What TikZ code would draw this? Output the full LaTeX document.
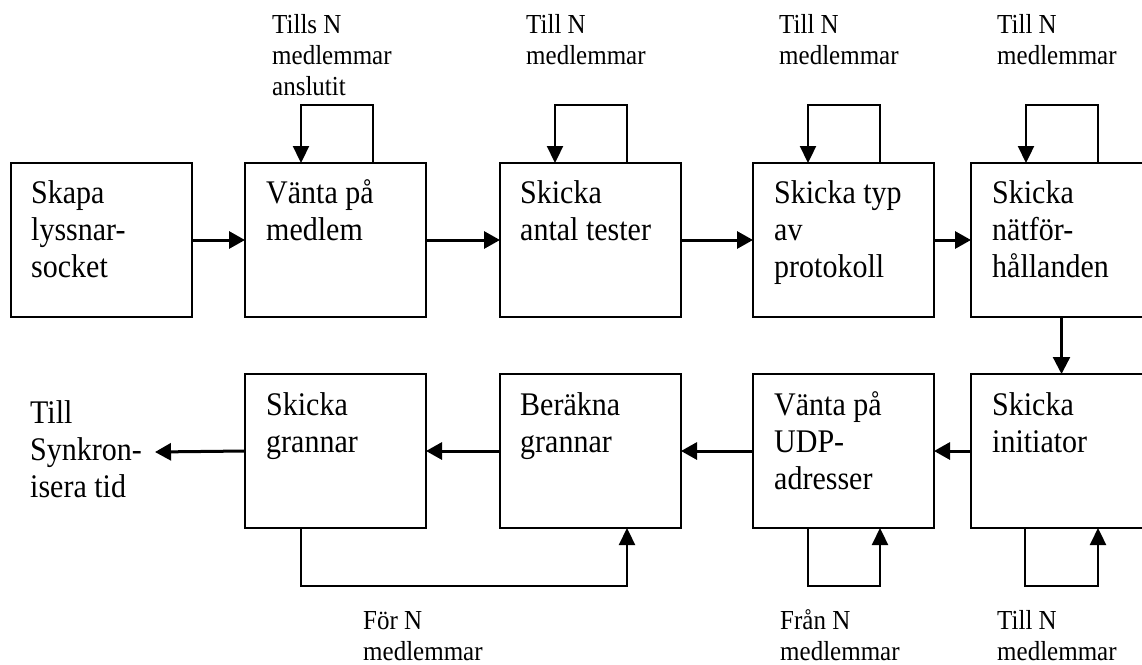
\documentclass[tikz,border=0pt]{standalone}
\usepackage{fontspec}
\usepackage{graphicx}
\setmainfont{Liberation Serif}
\usetikzlibrary{arrows.meta}

% text sizes for the step boxes and for the loop notes (set slightly tall)
\newcommand\boxfont{\fontsize{30}{33.8}\selectfont}
\newcommand\notefont{\fontsize{25}{28.2}\selectfont}
\newcommand\lines[1]{\scalebox{1}[1.1]{\begin{tabular}[t]{@{}l@{}}#1\end{tabular}}}

\tikzset{
  stepbox/.style={draw, line width=1.7pt, rectangle, inner sep=0pt, outer sep=0pt,
    minimum width=181pt, minimum height=154pt, anchor=north west},
  boxtext/.style={anchor=base west, inner sep=0pt, font=\boxfont},
  note/.style={anchor=base west, inner sep=0pt, font=\notefont},
  flow/.style={line width=3pt, -{Triangle[length=16pt,width=17pt]}},
  loopline/.style={line width=2.3pt, -{Triangle[length=17pt,width=16pt]}},
}

\begin{document}
\begin{tikzpicture}[x=1pt, y=-1pt]
\useasboundingbox (0,0) rectangle (1142,664);
\clip (0,0) rectangle (1142,664);

% upper row of steps
\node[stepbox] (b1) at (11,163) {};
\node[stepbox] (b2) at (245,163) {};
\node[stepbox] (b3) at (500,163) {};
\node[stepbox] (b4) at (753,163) {};
\node[stepbox] (b5) at (971,163) {};

% lower row of steps
\node[stepbox] (bA) at (245,374) {};
\node[stepbox] (bB) at (500,374) {};
\node[stepbox] (bC) at (753,374) {};
\node[stepbox] (bD) at (971,374) {};

% step texts
\node[boxtext] (t1) at ([xshift=20pt,yshift=-40pt]b1.north west) {\lines{Skapa\\lyssnar-\\socket}};
\node[boxtext] (t2) at ([xshift=21pt,yshift=-40pt]b2.north west) {\lines{Vänta på\\medlem}};
\node[boxtext] (t3) at ([xshift=20pt,yshift=-40pt]b3.north west) {\lines{Skicka\\antal tester}};
\node[boxtext] (t4) at ([xshift=21pt,yshift=-40pt]b4.north west) {\lines{Skicka typ\\av\\protokoll}};
\node[boxtext] (t5) at ([xshift=21pt,yshift=-40pt]b5.north west) {\lines{Skicka\\nätför-\\hållanden}};
\node[boxtext] (tA) at ([xshift=21pt,yshift=-41pt]bA.north west) {\lines{Skicka\\grannar}};
\node[boxtext] (tB) at ([xshift=20pt,yshift=-41pt]bB.north west) {\lines{Beräkna\\grannar}};
\node[boxtext] (tC) at ([xshift=21pt,yshift=-41pt]bC.north west) {\lines{Vänta på\\UDP-\\adresser}};
\node[boxtext] (tD) at ([xshift=21pt,yshift=-41pt]bD.north west) {\lines{Skicka\\initiator}};

% where the flow continues
\node[boxtext] (next) at (30,423) {\lines{Till\\Synkron-\\isera tid}};
\coordinate (out) at (155,452);

% main flow
\draw[flow] (b1.east) -- (b2.west);
\draw[flow] (b2.east) -- (b3.west);
\draw[flow] (b3.east) -- (b4.west);
\draw[flow] (b4.east) -- (b5.west);
\draw[line width=2.3pt, -{Triangle[length=17pt,width=17pt]}] (b5.south) -- (bD.north);
\draw[flow] (bD.west) -- (bC.east);
\draw[flow] (bC.west) -- (bB.east);
\draw[flow] (bB.west) -- (bA.east);
\draw[flow] (bA.west) -- (out);

% repeat loops over the upper row
\draw[loopline] ([xshift=128pt]b2.north west) -- ++(0,-58) -| ([xshift=56pt]b2.north west);
\draw[loopline] ([xshift=127pt]b3.north west) -- ++(0,-58) -| ([xshift=55pt]b3.north west);
\draw[loopline] ([xshift=127pt]b4.north west) -- ++(0,-58) -| ([xshift=55pt]b4.north west);
\draw[loopline] ([xshift=127pt]b5.north west) -- ++(0,-58) -| ([xshift=55pt]b5.north west);

% repeat loops under the lower row
\draw[loopline] ([xshift=56pt]bA.south west) -- ++(0,58) -| ([xshift=127pt]bB.south west);
\draw[loopline] ([xshift=55pt]bC.south west) -- ++(0,58) -| ([xshift=127pt]bC.south west);
\draw[loopline] ([xshift=54pt]bD.south west) -- ++(0,58) -| ([xshift=127pt]bD.south west);

% loop notes
\node[note] (n2) at (272,33) {\lines{Tills N\\medlemmar\\anslutit}};
\node[note] (n3) at (526,33) {\lines{Till N\\medlemmar}};
\node[note] (n4) at (779,33) {\lines{Till N\\medlemmar}};
\node[note] (n5) at (997,33) {\lines{Till N\\medlemmar}};
\node[note] (nA) at (363,629) {\lines{För N\\medlemmar}};
\node[note] (nC) at (780,629) {\lines{Från N\\medlemmar}};
\node[note] (nD) at (997,629) {\lines{Till N\\medlemmar}};
\end{tikzpicture}
\end{document}
